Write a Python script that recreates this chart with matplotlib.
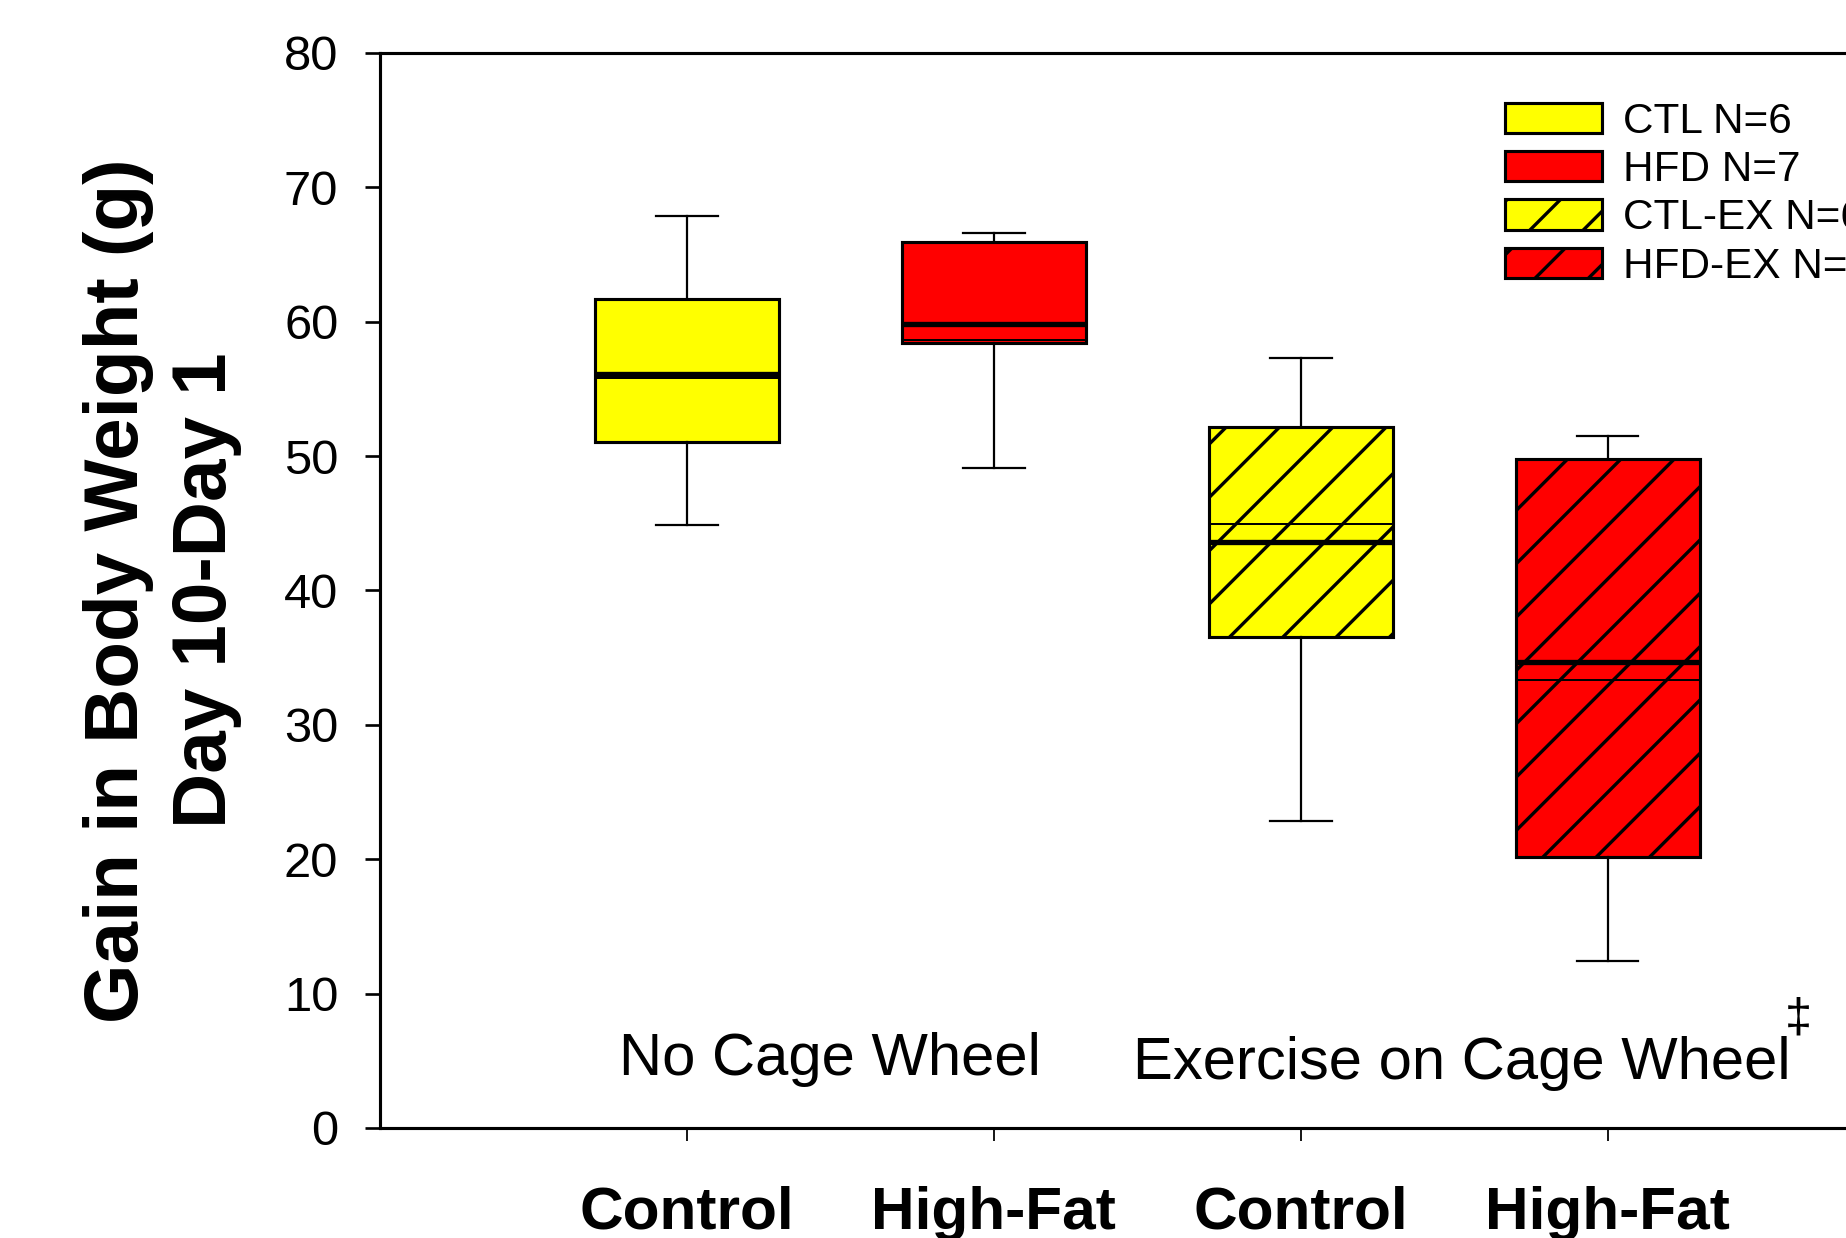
import matplotlib
matplotlib.use("Agg")
import matplotlib.pyplot as plt
from matplotlib.patches import Patch

# Body weight gain per group (g): whiskers, quartiles, median (thin) and mean (thick)
groups = ["CTL N=6", "HFD N=7", "CTL-EX N=6", "HFD-EX N=7"]
tick_labels = ["Control", "High-Fat", "Control", "High-Fat"]
whisker_low = [44.85, 49.15, 22.85, 12.45]
q1 = [51.05, 58.4, 36.5, 20.2]
median = [55.8, 58.65, 44.95, 33.3]
mean = [56.1, 59.85, 43.6, 34.65]
q3 = [61.7, 65.95, 52.15, 49.8]
whisker_high = [67.9, 66.6, 57.3, 51.5]
colors = ["#ffff00", "#ff0000", "#ffff00", "#ff0000"]
hatches = [None, None, "//", "//"]

plt.rcParams["font.family"] = ["Liberation Sans", "DejaVu Sans"]
plt.rcParams["hatch.linewidth"] = 0.75
plt.rcParams["hatch.color"] = "black"

dpi = 320
fig = plt.figure(figsize=(1846 / dpi, 1238 / dpi), dpi=dpi)
ax = fig.add_axes([0.2059, 0.0889, 0.8313, 0.8683])

stats = []
for i in range(len(groups)):
    stats.append(dict(whislo=whisker_low[i], q1=q1[i], med=median[i],
                      mean=mean[i], q3=q3[i], whishi=whisker_high[i],
                      fliers=[]))

positions = list(range(1, len(groups) + 1))
bp = ax.bxp(stats, positions=positions, widths=0.6, capwidths=0.2,
            patch_artist=True, showmeans=True, meanline=True, showfliers=False,
            boxprops=dict(linewidth=0.7, edgecolor="black"),
            whiskerprops=dict(linewidth=0.5, color="black"),
            capprops=dict(linewidth=0.5, color="black"),
            medianprops=dict(linewidth=0.45, color="black"),
            meanprops=dict(linewidth=1.2, color="black", linestyle="-"))

for box, c, h in zip(bp["boxes"], colors, hatches):
    box.set_facecolor(c)
    if h:
        box.set_hatch(h)

ax.set_xlim(0, 5)
ax.set_ylim(0, 80)
ax.set_yticks(range(0, 81, 10))
ax.set_xticks(positions)
ax.set_xticklabels(tick_labels, fontsize=13.6, fontweight="bold")
ax.tick_params(axis="y", direction="out", length=3.4, width=0.6, pad=6, labelsize=11)
ax.tick_params(axis="x", direction="out", length=3, width=0.4, pad=10)
for s in ax.spines.values():
    s.set_linewidth(0.7)

# Group annotations
ax.text(1.467, 5.1, "No Cage Wheel", fontsize=13.45, ha="center", va="center")
ax.text(3.525, 4.8, "Exercise on Cage Wheel", fontsize=13.45, ha="center", va="center")
ax.text(4.62, 8.1, "\u2021", fontsize=11, ha="center", va="center")

fig.text(0.088, 0.523, "Gain in Body Weight (g)\nDay 10-Day 1", rotation=90,
         ha="center", va="center", multialignment="center",
         fontsize=17.2, fontweight="bold", linespacing=1.3)

handles = [Patch(facecolor=c, edgecolor="black", hatch=h, linewidth=0.7)
           for c, h in zip(colors, hatches)]
ax.legend(handles, groups, loc="upper left", bbox_to_anchor=(0.8152, 0.918),
          bbox_transform=fig.transFigure, frameon=False, fontsize=9.5,
          handlelength=2.3, handleheight=0.73, handletextpad=0.5,
          labelspacing=0.2, borderpad=0, borderaxespad=0)

fig.savefig("out.png", dpi=dpi)
